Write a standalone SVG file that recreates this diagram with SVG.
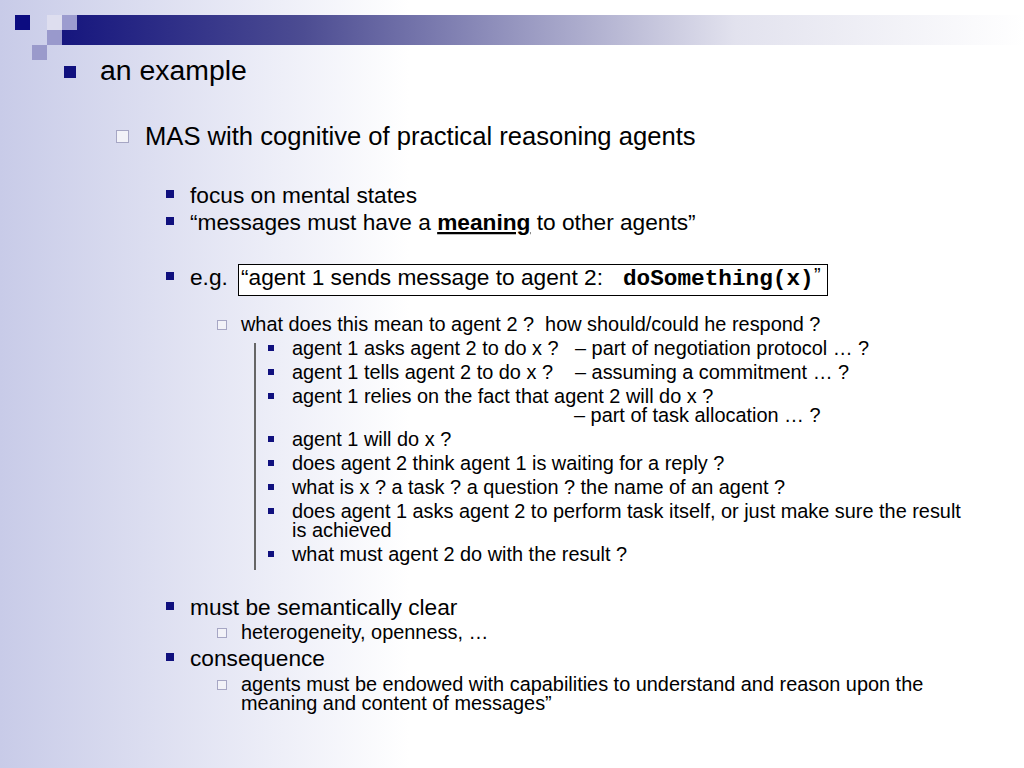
<svg xmlns="http://www.w3.org/2000/svg" width="1024" height="768" viewBox="0 0 1024 768">
<defs>
<linearGradient id="bg" x1="0" y1="0" x2="1024" y2="0" gradientUnits="userSpaceOnUse">
<stop offset="0" stop-color="#c8cbe8"/>
<stop offset="0.4" stop-color="#ffffff"/>
<stop offset="1" stop-color="#ffffff"/>
</linearGradient>
<linearGradient id="bar" x1="62" y1="0" x2="1024" y2="0" gradientUnits="userSpaceOnUse">
<stop offset="0" stop-color="#16167e"/>
<stop offset="0.25" stop-color="#4c4c92"/>
<stop offset="0.7" stop-color="#e2e2ee"/>
<stop offset="1" stop-color="#ffffff"/>
</linearGradient>
<style>
text{font-family:"Liberation Sans",Arial,sans-serif;fill:#000}
.l1{font-size:28.4px}
.l2{font-size:25.6px}
.l3{font-size:22.7px}
.l4{font-size:19.9px}
.mono{font-family:"Liberation Mono","Courier New",monospace;font-weight:bold}
.nb{fill:#10107e}
.hb{fill:#f2f2f8;stroke:#a6a6c4;stroke-width:1}
</style>
</defs>
<rect width="1024" height="768" fill="url(#bg)"/>
<g id="decoration">
<polygon points="77,15 1024,15 1024,45 62,45 62,30 77,30" fill="url(#bar)"/>
<rect x="15" y="15" width="15" height="15" fill="#0c0c80"/>
<rect x="47" y="15" width="15" height="15" fill="#dedeef"/>
<rect x="62" y="15" width="15" height="15" fill="#9c9ccf"/>
<rect x="47" y="30" width="15" height="15" fill="#9999cc"/>
<rect x="32" y="45" width="15" height="15" fill="#9a9acb"/>
</g>
<g id="title">
<rect class="nb" x="64" y="66" width="12" height="12"/>
<text class="l1" x="100" y="80">an example</text>
</g>
<g id="mas">
<rect class="hb" x="116.5" y="130.5" width="12" height="12"/>
<text class="l2" x="145" y="145">MAS with cognitive of practical reasoning agents</text>
</g>
<g id="focus">
<rect class="nb" x="166" y="190" width="8" height="8"/>
<text class="l3" x="190" y="203">focus on mental states</text>
</g>
<g id="messages">
<rect class="nb" x="166" y="217" width="8" height="8"/>
<text class="l3" x="190" y="230">“messages must have a <tspan font-weight="bold" text-decoration="underline">meaning</tspan> to other agents”</text>
</g>
<g id="eg">
<rect class="nb" x="166" y="272" width="8" height="8"/>
<text class="l3" x="190" y="285">e.g.</text>
<rect x="238.5" y="264.5" width="589" height="31" fill="#ffffff" stroke="#000" stroke-width="1"/>
<text class="l3" x="241" y="285">“agent 1 sends message to agent 2:</text>
<text class="l3 mono" x="623" y="285">doSomething(x)</text>
<text class="l4" x="814" y="282">”</text>
</g>
<g id="what-does">
<rect class="hb" x="217.5" y="320.5" width="9" height="9"/>
<text class="l4" x="241" y="331" xml:space="preserve">what does this mean to agent 2 ?  how should/could he respond ?</text>
</g>
<g id="connectors">
<line x1="255" y1="343" x2="255" y2="570" stroke="#666" stroke-width="2"/>
</g>
<g id="options">
<rect class="nb" x="268" y="345" width="6" height="6"/>
<text class="l4" x="292" y="355">agent 1 asks agent 2 to do x ?</text>
<text class="l4" x="575" y="355">– part of negotiation protocol … ?</text>
<rect class="nb" x="268" y="369" width="6" height="6"/>
<text class="l4" x="292" y="379">agent 1 tells agent 2 to do x ?</text>
<text class="l4" x="575" y="379">– assuming a commitment … ?</text>
<rect class="nb" x="268" y="393" width="6" height="6"/>
<text class="l4" x="292" y="403">agent 1 relies on the fact that agent 2 will do x ?</text>
<text class="l4" x="574" y="422">– part of task allocation … ?</text>
<rect class="nb" x="268" y="436" width="6" height="6"/>
<text class="l4" x="292" y="446">agent 1 will do x ?</text>
<rect class="nb" x="268" y="460" width="6" height="6"/>
<text class="l4" x="292" y="470">does agent 2 think agent 1 is waiting for a reply ?</text>
<rect class="nb" x="268" y="484" width="6" height="6"/>
<text class="l4" x="292" y="494">what is x ? a task ? a question ? the name of an agent ?</text>
<rect class="nb" x="268" y="508" width="6" height="6"/>
<text class="l4" x="292" y="518">does agent 1 asks agent 2 to perform task itself, or just make sure the result</text>
<text class="l4" x="292" y="537">is achieved</text>
<rect class="nb" x="268" y="551" width="6" height="6"/>
<text class="l4" x="292" y="561">what must agent 2 do with the result ?</text>
</g>
<g id="semantic">
<rect class="nb" x="166" y="602" width="8" height="8"/>
<text class="l3" x="190" y="615">must be semantically clear</text>
<rect class="hb" x="217.5" y="628.5" width="9" height="9"/>
<text class="l4" x="241" y="639">heterogeneity, openness, …</text>
</g>
<g id="consequence">
<rect class="nb" x="166" y="653" width="8" height="8"/>
<text class="l3" x="190" y="666">consequence</text>
<rect class="hb" x="217.5" y="680.5" width="9" height="9"/>
<text class="l4" x="241" y="691">agents must be endowed with capabilities to understand and reason upon the</text>
<text class="l4" x="241" y="710">meaning and content of messages”</text>
</g>
</svg>
